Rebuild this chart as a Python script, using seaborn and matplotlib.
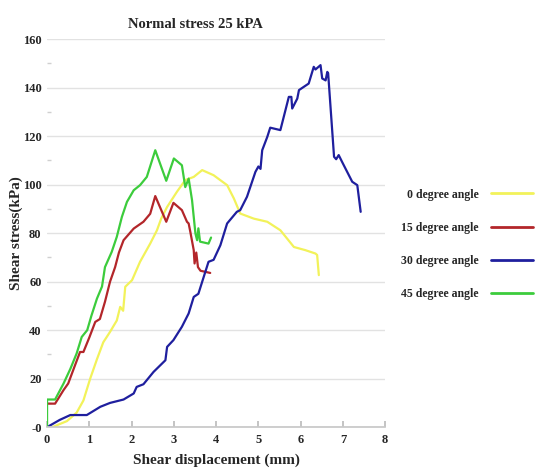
import numpy as np
import pandas as pd
import matplotlib
matplotlib.use("Agg")
import matplotlib.pyplot as plt
import seaborn as sns
from matplotlib.lines import Line2D

sns.set_theme(style="white")
plt.rcParams['font.family'] = ['Liberation Serif', 'DejaVu Serif']

labels = ["0 degree angle", "15 degree angle", "30 degree angle", "45 degree angle"]
colors = ["#f2f25a", "#b3262a", "#1f1f9e", "#3ccc3c"]

x0 = [0.05, 0.47, 0.70, 0.86, 1.02, 1.18, 1.33, 1.49, 1.65, 1.73, 1.80, 1.85, 2.01, 2.20, 2.44, 2.60, 2.70,
      2.84, 3.07, 3.27, 3.47, 3.67, 3.94, 4.26, 4.42, 4.57, 4.89, 5.21, 5.52, 5.84, 6.11, 6.35, 6.39, 6.43]
y0 = [-0.5, 2.5, 6, 11, 20, 28, 35, 39.3, 44, 49.6, 48, 57.9, 60.6, 68.2, 75.7, 81.2, 86,
      90.8, 97, 101.9, 103.2, 106, 103.9, 99.8, 94.3, 88.1, 86, 84.7, 81.2, 74.3, 73, 71.6, 71, 62.7]

x15 = [0, 0.19, 0.39, 0.50, 0.65, 0.78, 0.86, 1.0, 1.14, 1.25, 1.37, 1.49, 1.61, 1.70, 1.81, 2.05, 2.28,
       2.44, 2.56, 2.82, 2.99, 3.19, 3.31, 3.35, 3.39, 3.47, 3.49, 3.53, 3.57, 3.63, 3.86]
y15 = [9.7, 9.7, 15.3, 18, 25, 31, 31, 37, 43.4, 44.6, 51.7, 60, 66, 72, 77.1, 81.9, 84.7,
       88, 95.3, 84.7, 92.5, 89.5, 84.7, 84, 80.5, 73, 67.5, 72, 66, 64.5, 63.6]

x30 = [0, 0.30, 0.55, 0.94, 1.26, 1.49, 1.81, 2.05, 2.12, 2.28, 2.52, 2.80, 2.84, 2.99, 3.19, 3.35, 3.47,
       3.58, 3.82, 3.94, 4.10, 4.26, 4.49, 4.57, 4.73, 4.93, 5.0, 5.05, 5.09, 5.21, 5.28, 5.52, 5.72,
       5.78, 5.80, 5.92, 5.96, 6.19, 6.31, 6.35, 6.47, 6.51, 6.59, 6.63, 6.65, 6.79, 6.84, 6.90, 6.98,
       7.05, 7.22, 7.34, 7.42]
y30 = [0, 3, 5, 5, 8.4, 10, 11.4, 13.9, 16.6, 17.7, 22.8, 27.6, 33.1, 35.9, 41.4, 46.9, 53.7,
       55, 68.2, 69, 75, 84, 88.8, 89.5, 95, 105.3, 107.5, 106.5, 114.2, 119.7, 123.5, 122.5, 136.2,
       136.2, 131.4, 135.5, 139, 141.7, 148.6, 147.5, 149.3, 143.8, 143, 146.5, 146, 111.5, 110.5, 112.2, 109.4,
       107, 101.2, 99.8, 88.8]

x45 = [0, 0, 0.19, 0.39, 0.55, 0.70, 0.82, 0.95, 1.05, 1.18, 1.30, 1.37, 1.53, 1.65, 1.77, 1.89, 2.05,
       2.20, 2.36, 2.56, 2.82, 3.0, 3.19, 3.27, 3.35, 3.43, 3.47, 3.51, 3.55, 3.58, 3.62, 3.82, 3.88]
y45 = [0, 11.4, 11.4, 18, 24, 30.4, 37.2, 40, 46, 53, 58, 66, 72.3, 78.5, 86.7, 92.9, 97.7,
       99.8, 103.2, 114.2, 101.6, 110.8, 108, 99, 102.5, 93.6, 86.7, 79.9, 77.1, 82, 76.5, 75.7, 78.2]

xticks = [0, 1, 2, 3, 4, 5, 6, 7, 8]
yticks = [0, 20, 40, 60, 80, 100, 120, 140, 160]
yticklabels = ["-0", "20", "40", "60", "80", "100", "120", "140", "160"]

frames = []
for lab, xs, ys in zip(labels, [x0, x15, x30, x45], [y0, y15, y30, y45]):
    frames.append(pd.DataFrame({"x": xs, "y": ys, "angle": lab}))
df = pd.concat(frames, ignore_index=True)

fig = plt.figure(figsize=(5.41, 4.72), dpi=100)
ax = fig.add_axes([0.087, 0.095, 0.625, 0.822])

sns.lineplot(data=df, x="x", y="y", hue="angle", palette=dict(zip(labels, colors)),
             sort=False, estimator=None, units="angle", linewidth=1.6, ax=ax, legend=False)

ax.set_xlim(0, 8)
ax.set_ylim(0, 160)
ax.set_xticks(xticks)
ax.set_xticklabels([str(t) for t in xticks], fontweight="bold", fontsize=9)
ax.set_yticks(yticks)
ax.set_yticklabels(yticklabels, fontweight="bold", fontsize=9)
ax.set_yticks(np.arange(10, 160, 20), minor=True)
ax.grid(axis="y", which="major", color="#e2e2e2", linewidth=1.0)
ax.grid(axis="x", visible=False)
for s in ["top", "right", "left"]:
    ax.spines[s].set_visible(False)
ax.spines["bottom"].set_color("#c8c8c8")
ax.tick_params(axis="x", direction="in", length=4, color="#bdbdbd", pad=5, bottom=True)
ax.tick_params(axis="y", which="major", length=0, pad=4)
ax.tick_params(axis="y", which="minor", direction="in", length=3, color="#d0d0d0", left=True)
ax.set_axisbelow(True)

ax.set_xlabel("Shear displacement (mm)", fontweight="bold", fontsize=11, labelpad=5)
ax.set_ylabel("Shear stress(kPa)", fontweight="bold", fontsize=11)
ax.yaxis.set_label_coords(-0.072, 0.5)
ax.set_title("Normal stress 25 kPA", fontweight="bold", fontsize=10.5, x=0.44, pad=8)

handles = [Line2D([], [], color=c, linewidth=2) for c in colors]
leg = fig.legend(handles, labels, loc="center left", bbox_to_anchor=(0.722, 0.482),
                 frameon=False, markerfirst=False, handlelength=3.6, handletextpad=1.0,
                 labelspacing=1.8, prop={"weight": "bold", "size": 8.5})

fig.savefig("out.png", dpi=100)
